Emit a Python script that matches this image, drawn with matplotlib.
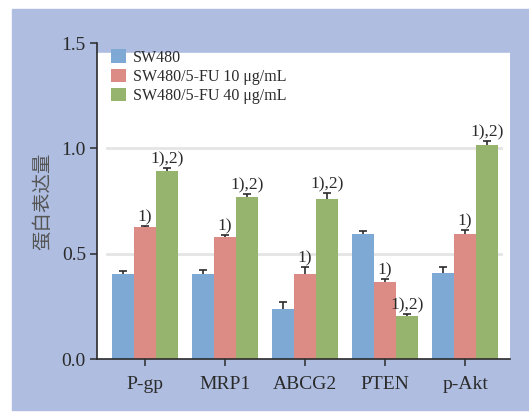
import matplotlib.pyplot as plt
from matplotlib.patches import Rectangle
import numpy as np

proteins = ['P-gp', 'MRP1', 'ABCG2', 'PTEN', 'p-Akt']
groups = ['SW480', 'SW480/5-FU 10 μg/mL', 'SW480/5-FU 40 μg/mL']
sw480 = [0.403, 0.403, 0.237, 0.592, 0.408]
sw480_err = [0.017, 0.018, 0.035, 0.017, 0.030]
fu10 = [0.627, 0.579, 0.403, 0.365, 0.592]
fu10_err = [0.006, 0.009, 0.035, 0.013, 0.022]
fu40 = [0.892, 0.769, 0.759, 0.204, 1.016]
fu40_err = [0.016, 0.016, 0.027, 0.011, 0.019]
marks10 = ['1)', '1)', '1)', '1)', '1)']
marks40 = ['1),2)', '1),2)', '1),2)', '1),2)', '1),2)']

colors = ['#7ea9d5', '#dc8c84', '#97b46f']
panel = '#aebde0'
txt = '#2b2b2b'

plt.rcParams['font.family'] = ['Liberation Serif', 'Noto Sans CJK SC']

fig = plt.figure(figsize=(5.29, 4.17), dpi=100)
fig.patch.set_facecolor('white')
fig.patches.append(Rectangle((12/529, 7/417), 1 - 12/529, 401/417,
                             transform=fig.transFigure, color=panel, zorder=-10))

ax = fig.add_axes([97/529, 58/417, 413/529, 316/417])
ax.set_facecolor('none')
ax.add_patch(Rectangle((0, 0), 1, 0.968, transform=ax.transAxes,
                       color='white', zorder=-5))

x = np.arange(len(proteins))
w = 0.275
series = [(sw480, sw480_err), (fu10, fu10_err), (fu40, fu40_err)]
for i, (vals, errs) in enumerate(series):
    pos = x + (i - 1) * w
    ax.bar(pos, vals, w, color=colors[i], label=groups[i], zorder=2)
    eb = ax.errorbar(pos, vals, yerr=[np.zeros(len(vals)), errs], fmt='none',
                     ecolor=txt, elinewidth=1.2, capsize=3, capthick=1.2, zorder=3)
    eb[1][0].set_visible(False)  # only keep the upper cap

for i in range(len(proteins)):
    ax.annotate(marks10[i], (x[i], fu10[i] + fu10_err[i]), xytext=(0, 0.5),
                textcoords='offset points', ha='center', va='bottom',
                fontsize=12.5, color=txt)
    ax.annotate(marks40[i], (x[i] + w, fu40[i] + fu40_err[i]), xytext=(0, 0.5),
                textcoords='offset points', ha='center', va='bottom',
                fontsize=12.5, color=txt)

ax.set_xlim(-0.6, 4.56)
ax.set_ylim(0, 1.5)
ax.set_yticks([0, 0.5, 1.0, 1.5])
ax.set_yticklabels(['0.0', '0.5', '1.0', '1.5'])
ax.set_xticks(x)
ax.set_xticklabels(proteins)
ax.tick_params(axis='both', colors=txt, labelsize=14, width=1.1, length=5)
ax.tick_params(axis='x', pad=7)
ax.tick_params(axis='y', pad=3)
for s in ['top', 'right']:
    ax.spines[s].set_visible(False)
for s in ['left', 'bottom']:
    ax.spines[s].set_color(txt)
    ax.spines[s].set_linewidth(1.2)

for v in [0.5, 1.0]:
    ax.plot([0.025, 0.978], [v, v], transform=ax.get_yaxis_transform(),
            color='#e5e5e5', lw=2, zorder=1)

ax.set_ylabel('蛋白表达量', family=['Noto Sans CJK SC'], fontsize=14,
              color='#555555', labelpad=6)

ax.legend(loc='upper left', bbox_to_anchor=(0.0, 1.025), frameon=False,
          fontsize=11.5, handlelength=0.9, handleheight=0.9, handletextpad=0.45,
          labelspacing=0.2, labelcolor=txt)

fig.savefig('out.png', dpi=100)
